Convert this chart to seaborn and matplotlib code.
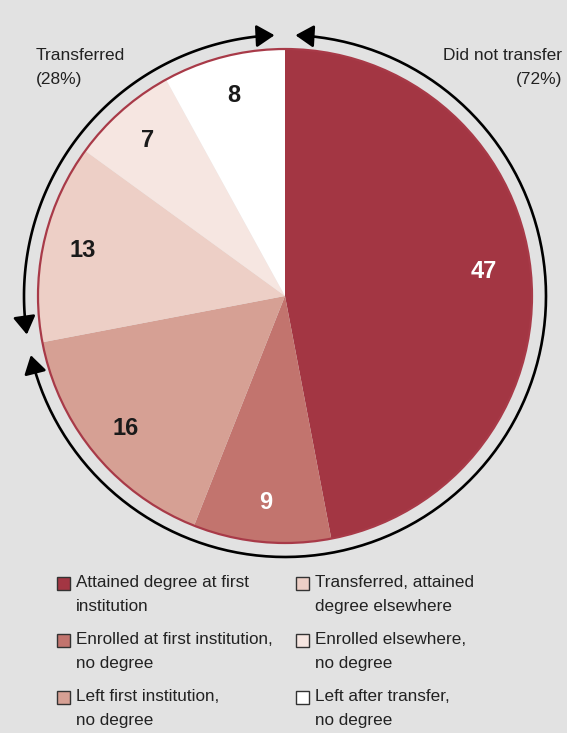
import numpy as np
import matplotlib
matplotlib.use("Agg")
import matplotlib.pyplot as plt
from matplotlib.patches import FancyArrowPatch, Rectangle, Circle
from matplotlib.path import Path
import seaborn as sns

# data
categories = ["Attained degree at first\ninstitution",
              "Enrolled at first institution,\nno degree",
              "Left first institution,\nno degree",
              "Transferred, attained\ndegree elsewhere",
              "Enrolled elsewhere,\nno degree",
              "Left after transfer,\nno degree"]
values = [47, 9, 16, 13, 7, 8]
colors = ["#A33643", "#C2746E", "#D6A094", "#EDCFC6", "#F6E6E1", "#FFFFFF"]
label_colors = ["white", "white", "#1a1a1a", "#1a1a1a", "#1a1a1a", "#1a1a1a"]
groups = ["Did not transfer", "Transferred"]
group_share = [72, 28]

sns.set_theme(style="white")
plt.rcParams["font.family"] = ["Liberation Sans Narrow", "Liberation Sans", "DejaVu Sans"]

W, H = 567, 733
bg = "#E2E2E2"
fig = plt.figure(figsize=(W / 100, H / 100), dpi=100, facecolor=bg)
ax = fig.add_axes([0, 0, 1, 1])
ax.set_facecolor(bg)


def Y(py):
    return H - py


cx, cy, r = 285, Y(296), 247
wedges, texts = ax.pie(values, colors=colors, startangle=90, counterclock=False,
                       center=(cx, cy), radius=r, labels=[str(v) for v in values],
                       labeldistance=0.84, wedgeprops=dict(linewidth=0),
                       textprops=dict(fontsize=17, fontweight="bold"))
for t, c in zip(texts, label_colors):
    t.set_ha("center")
    t.set_va("center")
    t.set_color(c)
# the biggest slice's label sits a bit further in
x0, y0 = texts[0].get_position()
texts[0].set_position((cx + (x0 - cx) * 0.96, cy + (y0 - cy) * 0.96 + 6))
ax.add_patch(Circle((cx, cy), r, fill=False, ec="#A83A48", lw=1.6))

# outer double-headed arcs for the two groups
ring = 261
gap = 2.3
boundary = 90 - group_share[0] / 100 * 360


def arc_arrow(a0, a1):
    ang = np.radians(np.linspace(a0, a1, 120))
    verts = np.column_stack([cx + ring * np.cos(ang), cy + ring * np.sin(ang)])
    p = FancyArrowPatch(path=Path(verts), arrowstyle="<|-|>,head_length=0.55,head_width=0.34",
                        mutation_scale=20, lw=1.9, color="black", shrinkA=0, shrinkB=0)
    ax.add_patch(p)


arc_arrow(90 - gap, boundary + gap)
arc_arrow(boundary + 360 - gap, 90 + gap)

ax.text(562, Y(48), f"{groups[0]}\n({group_share[0]}%)", ha="right", va="top",
        fontsize=12.5, color="#222222", linespacing=1.75)
ax.text(36, Y(48), f"{groups[1]}\n({group_share[1]}%)", ha="left", va="top",
        fontsize=12.5, color="#222222", linespacing=1.75)

# legend drawn by hand: two columns, square aligned with first line
col_x = [57, 296]
row_y = [583, 640, 697]
for i, (lab, col) in enumerate(zip(categories, colors)):
    x = col_x[i // 3]
    y = row_y[i % 3]
    ax.add_patch(Rectangle((x, Y(y) - 6.5), 13, 13, fc=col, ec="#333333", lw=1.0))
    ax.text(x + 19, Y(y) + 8, lab, ha="left", va="top", fontsize=12.3,
            color="#222222", linespacing=1.72)

ax.set_xlim(0, W)
ax.set_ylim(0, H)
ax.set_aspect("equal")
ax.axis("off")
fig.savefig("out.png", dpi=100, facecolor=bg)
